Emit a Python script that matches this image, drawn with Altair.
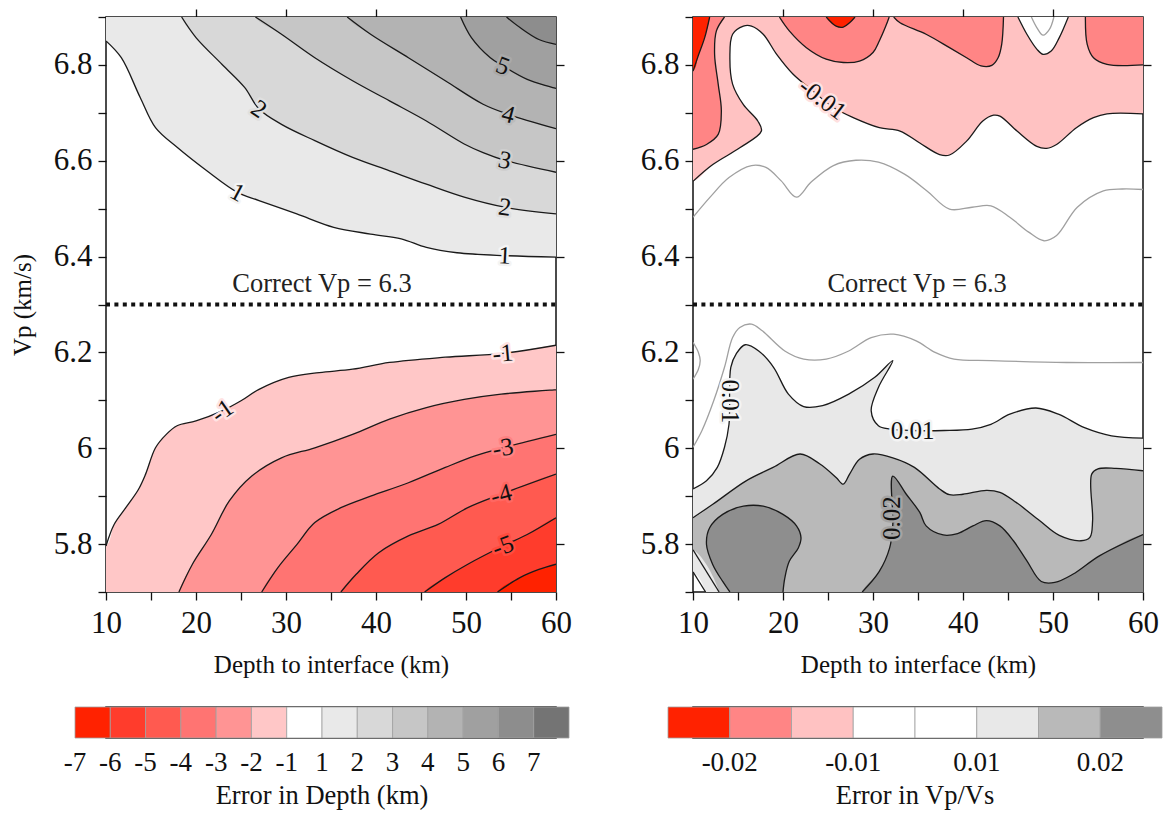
import altair as alt
import pandas as pd

FONT = "Liberation Serif"
DEPTH_MIN, DEPTH_MAX = 10, 60
VP_MIN, VP_MAX = 5.7, 6.9
CORRECT_VP = 6.3
PANEL_W, PANEL_H = 450, 575
BAR_H = 31

# outlines of filled regions are closed just outside the plot frame (clipped away)
X_OUT_L, X_OUT_R = DEPTH_MIN - 3, DEPTH_MAX + 3
Y_OUT_B, Y_OUT_T = VP_MIN - 0.05, VP_MAX + 0.05

# ---------------- Error in depth (km): contour lines, depth (km) vs Vp (km/s)
dz_p1_depth = [10, 11.7, 13.8, 15.5, 17.9, 21.2, 24.6, 27, 31.2, 35.3, 39.4, 42.8, 45.6, 49, 54.3, 60]
dz_p1_vp = [6.85, 6.815, 6.732, 6.669, 6.628, 6.579, 6.534, 6.517, 6.489, 6.461, 6.447, 6.437, 6.419, 6.408, 6.402, 6.399]
dz_p2_depth = [18.4, 20, 22.9, 25.4, 27, 29.5, 33.2, 37.4, 41.5, 45.6, 49.8, 54.3, 60]
dz_p2_vp = [6.9, 6.857, 6.801, 6.753, 6.708, 6.676, 6.642, 6.607, 6.579, 6.551, 6.524, 6.503, 6.489]
dz_p3_depth = [26.6, 29.5, 33.2, 37.4, 41.5, 45.6, 49.8, 51.9, 54.3, 60]
dz_p3_vp = [6.9, 6.864, 6.815, 6.767, 6.725, 6.683, 6.635, 6.617, 6.601, 6.576]
dz_p4_depth = [36.8, 39.4, 43.6, 47.7, 51.9, 54.7, 60]
dz_p4_vp = [6.9, 6.864, 6.815, 6.767, 6.718, 6.697, 6.667]
dz_p5_depth = [49.4, 50.6, 52.7, 54.1, 56.8, 60]
dz_p5_vp = [6.9, 6.857, 6.815, 6.798, 6.770, 6.751]
dz_p6_depth = [54.5, 56, 58.1, 60]
dz_p6_vp = [6.9, 6.878, 6.853, 6.843]

dz_n1_depth = [10, 10.9, 12.2, 13.6, 14.4, 15.5, 16.7, 17.9, 20, 22.9, 25, 27, 30.3, 33.7, 37.4, 41.5, 47.7, 54.1, 60]
dz_n1_vp = [5.796, 5.841, 5.876, 5.914, 5.946, 6.001, 6.029, 6.047, 6.057, 6.078, 6.099, 6.123, 6.148, 6.158, 6.165, 6.179, 6.190, 6.198, 6.215]
dz_n2_depth = [18.1, 19.6, 21.7, 23.7, 26.2, 29.5, 33.2, 37.4, 41.5, 45.6, 49.8, 53.9, 60]
dz_n2_vp = [5.7, 5.758, 5.820, 5.890, 5.942, 5.980, 6.001, 6.029, 6.061, 6.085, 6.102, 6.113, 6.122]
dz_n3_depth = [27.3, 29.1, 31.2, 33.2, 36.1, 39.4, 43.6, 47.7, 51, 54.1, 60]
dz_n3_vp = [5.7, 5.751, 5.799, 5.845, 5.876, 5.900, 5.928, 5.960, 5.984, 6.001, 6.029]
dz_n4_depth = [36.1, 37.8, 40.3, 43.6, 46.9, 50.2, 53.9, 60]
dz_n4_vp = [5.7, 5.737, 5.782, 5.817, 5.841, 5.876, 5.904, 5.946]
dz_n5_depth = [45.4, 47.7, 50.2, 54.1, 56.8, 60]
dz_n5_vp = [5.7, 5.730, 5.758, 5.796, 5.820, 5.855]
dz_n6_depth = [53.5, 56, 58.1, 60]
dz_n6_vp = [5.7, 5.730, 5.747, 5.758]

# colour classes: [-7,-6) ... [-1,1) ... [7, +)
dz_colors = ["#ff2200", "#ff3c2c", "#ff5a50", "#ff7472", "#ff9494", "#ffc7c7", "#ffffff",
             "#e9e9e9", "#d8d8d8", "#c6c6c6", "#b3b3b3", "#a0a0a0", "#8d8d8d", "#747474"]
dz_tick_pos = list(range(14))
dz_tick_text = ["-7", "-6", "-5", "-4", "-3", "-2", "-1", "1", "2", "3", "4", "5", "6", "7"]

dz_label_text = ["1", "2", "1", "2", "3", "4", "5", "-1", "-1", "-3", "-4", "-5"]
dz_label_depth = [24.6, 27.0, 54.3, 54.3, 54.3, 54.7, 54.1, 22.9, 54.1, 54.1, 53.9, 54.1]
dz_label_vp = [6.534, 6.708, 6.402, 6.503, 6.601, 6.697, 6.798, 6.078, 6.198, 6.001, 5.904, 5.796]
dz_label_angle = [28, 35, 3, 8, 12, 15, 20, 325, 355, 350, 345, 340]
dz_label_halo = ["#f4f4f4", "#e0e0e0", "#f4f4f4", "#e0e0e0", "#cfcfcf", "#bcbcbc", "#a9a9a9",
                 "#ffe3e3", "#ffe3e3", "#ff8383", "#ff6761", "#ff4b3e"]

# ---------------- Error in Vp/Vs: contour lines
r_m010_depth = [10, 12.2, 15.2, 17.6, 17.2, 15.6, 14.4, 14.1, 14.4, 15.6, 16.5, 17.8, 19.3, 21.1, 23.3,
                25.6, 27.8, 30.7, 33, 35.2, 37.4, 38.5, 40.4, 42.2, 43.4, 44.1, 46, 48.2, 49.3, 50.4,
                52.6, 54.5, 56, 60]
r_m010_vp = [6.557, 6.592, 6.627, 6.662, 6.683, 6.717, 6.760, 6.815, 6.864, 6.881, 6.881, 6.864, 6.822,
             6.781, 6.746, 6.711, 6.690, 6.669, 6.662, 6.637, 6.613, 6.612, 6.641, 6.683, 6.695, 6.693,
             6.662, 6.630, 6.626, 6.634, 6.669, 6.690, 6.698, 6.698]
r_m015a_depth = [13.5, 12.6, 12.4, 12.8, 13.15, 12.8, 11.5, 10]
r_m015a_vp = [6.9, 6.871, 6.822, 6.76, 6.704, 6.655, 6.634, 6.624]
r_m015b_depth = [19.6, 20.7, 22.6, 24.8, 26.7, 28.5, 30, 30.7, 31.4, 31.8]
r_m015b_vp = [6.9, 6.871, 6.836, 6.812, 6.805, 6.808, 6.826, 6.850, 6.880, 6.9]
r_m015c_depth = [32.3, 33, 35.9, 38.5, 40.4, 42.0, 43.2, 43.9, 44.3, 44.5]
r_m015c_vp = [6.9, 6.888, 6.864, 6.836, 6.815, 6.798, 6.799, 6.815, 6.843, 6.9]
r_m015d_depth = [53.6, 53.8, 54.5, 56, 60]
r_m015d_vp = [6.9, 6.843, 6.815, 6.801, 6.8]
r_m010b_depth = [46.1, 47.1, 48.2, 48.9, 49.8, 50.7, 51.7]
r_m010b_vp = [6.9, 6.864, 6.833, 6.822, 6.829, 6.857, 6.9]
r_m020a_depth = [11.85, 11.3, 10.6, 10]
r_m020a_vp = [6.9, 6.857, 6.82, 6.787]
r_m020b_depth = [24.8, 25.9, 26.7, 27.4, 28]
r_m020b_vp = [6.9, 6.881, 6.879, 6.888, 6.9]

r_p010_depth = [10, 11.5, 12.7, 13.5, 14, 14.2, 14.8, 15.8, 17.3, 18.95, 20.6, 22.3, 24.4, 27.3, 30.2,
                32.2, 30.6, 29.8, 30.6, 31.9, 34.4, 37.9, 41, 43.1, 45.2, 48.1, 50.6, 53.5, 56.5, 60]
r_p010_vp = [5.915, 5.932, 5.960, 6.002, 6.05, 6.169, 6.197, 6.216, 6.203, 6.169, 6.113, 6.087, 6.089,
             6.113, 6.148, 6.183, 6.127, 6.078, 6.047, 6.04, 6.037, 6.037, 6.04, 6.05, 6.071, 6.084,
             6.071, 6.043, 6.026, 6.021]
r_b010_depth = [11.4, 10]
r_b010_vp = [5.7, 5.742]
r_p015_depth = [10, 12.2, 15.9, 18.9, 21.9, 24.1, 25.9, 26.7, 27.4, 28.5, 30, 32.2, 34.6, 37.4, 38.5,
                40, 42.6, 44.1, 45.9, 48.5, 50.7, 53.1, 54.1, 54.4, 54.3, 55, 57, 60]
r_p015_vp = [5.855, 5.883, 5.932, 5.960, 5.988, 5.967, 5.939, 5.925, 5.946, 5.977, 5.988, 5.980, 5.960,
             5.915, 5.903, 5.904, 5.912, 5.908, 5.887, 5.849, 5.818, 5.807, 5.814, 5.849, 5.946, 5.957,
             5.958, 5.953]
r_b015_depth = [12.9, 10]
r_b015_vp = [5.7, 5.788]
r_p020a_depth = [14.1, 13.3, 12.2, 11.5, 11.85, 13.3, 15.6, 17.8, 20, 21.5, 22, 21.7, 20.7, 20.2, 20]
r_p020a_vp = [5.7, 5.722, 5.757, 5.799, 5.834, 5.862, 5.879, 5.879, 5.862, 5.838, 5.813, 5.792, 5.764, 5.729, 5.7]
r_p020b_depth = [28.8, 30.7, 31.85, 32.2, 32.2, 33.7, 35.2, 35.9, 37.8, 39.4, 41.1, 42.6, 44.1, 45.6,
                 47.1, 48.7, 50.2, 52.2, 55.2, 60]
r_p020b_vp = [5.7, 5.743, 5.792, 5.841, 5.942, 5.904, 5.866, 5.838, 5.819, 5.822, 5.838, 5.849, 5.838,
              5.807, 5.765, 5.722, 5.720, 5.737, 5.776, 5.82]

# thin grey contours
r_g1_depth = [10, 11.9, 14, 16.5, 18.1, 19.8, 21.5, 23.1, 25.6, 28.1, 30.6, 33.5, 36, 38.5, 41, 43.1,
              45.2, 47.3, 49, 50.4, 52.7, 55.6, 57.7, 60]
r_g1_vp = [6.482, 6.524, 6.565, 6.590, 6.586, 6.558, 6.524, 6.555, 6.590, 6.601, 6.597, 6.572, 6.537,
           6.499, 6.503, 6.506, 6.482, 6.451, 6.433, 6.444, 6.503, 6.537, 6.541, 6.540]
r_g2_depth = [47.6, 48.2, 48.9, 49.6, 50.1]
r_g2_vp = [6.9, 6.878, 6.862, 6.874, 6.9]
r_g3_depth = [10, 11, 12.3, 13.5, 14.4, 15.2, 16.5, 17.7, 20.2, 22.3, 24.8, 27.3, 29.8, 32.3, 34.8,
              36.9, 39, 43.1, 51.5, 60]
r_g3_vp = [6.002, 6.037, 6.099, 6.169, 6.231, 6.252, 6.259, 6.245, 6.203, 6.186, 6.186, 6.203, 6.231,
           6.238, 6.224, 6.2, 6.186, 6.183, 6.179, 6.179]
r_g4_depth = [10, 10.6, 10.8, 10.6, 10]
r_g4_vp = [6.221, 6.2, 6.183, 6.165, 6.144]

# colour classes: [-0.025,-0.02) [-0.02,-0.015) [-0.015,-0.01) [-0.01,0) [0,0.01) [0.01,0.015) [0.015,0.02) [0.02,+)
vr_colors = ["#ff2200", "#ff8585", "#ffc2c2", "#ffffff", "#ffffff", "#e8e8e8", "#b9b9b9", "#8e8e8e"]
vr_tick_pos = [1, 3, 5, 7]
vr_tick_text = ["-0.02", "-0.01", "0.01", "0.02"]

vr_label_text = ["-0.01", "0.01", "0.01", "0.02"]
vr_label_depth = [24.4, 14.1, 34.4, 32.1]
vr_label_vp = [6.729, 6.098, 6.036, 5.854]
vr_label_angle = [37, 90, 0, 270]
vr_label_halo = ["#ffe0e0", "#f4f4f4", "#f4f4f4", "#a4a4a4"]


def outward(d, v):
    """Step from a contour end on the frame straight out of the plot."""
    if d <= DEPTH_MIN:
        return (X_OUT_L, v)
    if d >= DEPTH_MAX:
        return (X_OUT_R, v)
    if v >= VP_MAX:
        return (d, Y_OUT_T)
    return (d, Y_OUT_B)


def region(key, parts, fill):
    """Closed outline built from contour pieces joined outside the frame."""
    pts = []
    for ds, vs, corners in parts:
        pts.append(outward(ds[0], vs[0]))
        pts += list(zip(ds, vs))
        pts.append(outward(ds[-1], vs[-1]))
        pts += corners
    return [{"poly": key, "i": i, "depth": d, "vp": v, "fill": fill} for i, (d, v) in enumerate(pts)]


def path_rows(key, depths, vps):
    return [{"poly": key, "i": i, "depth": d, "vp": v} for i, (d, v) in enumerate(zip(depths, vps))]


def frame(rows_list):
    return pd.DataFrame([r for rows in rows_list for r in rows])


TR, TL = (X_OUT_R, Y_OUT_T), (X_OUT_L, Y_OUT_T)
BR, BL = (X_OUT_R, Y_OUT_B), (X_OUT_L, Y_OUT_B)

# depth-error panel, painted from the zero band outwards
pos_lines = [(dz_p1_depth, dz_p1_vp), (dz_p2_depth, dz_p2_vp), (dz_p3_depth, dz_p3_vp),
             (dz_p4_depth, dz_p4_vp), (dz_p5_depth, dz_p5_vp), (dz_p6_depth, dz_p6_vp)]
neg_lines = [(dz_n1_depth, dz_n1_vp), (dz_n2_depth, dz_n2_vp), (dz_n3_depth, dz_n3_vp),
             (dz_n4_depth, dz_n4_vp), (dz_n5_depth, dz_n5_vp), (dz_n6_depth, dz_n6_vp)]
dz_fill = frame(
    [region(f"a{k}", [(ds, vs, [TR] + ([TL] if ds[0] <= DEPTH_MIN else []))], dz_colors[7 + k])
     for k, (ds, vs) in enumerate(pos_lines)]
    + [region(f"b{k}", [(ds, vs, [BR] + ([BL] if ds[0] <= DEPTH_MIN else []))], dz_colors[5 - k])
       for k, (ds, vs) in enumerate(neg_lines)])
dz_lines = frame([path_rows(f"l{k:02d}", ds, vs) for k, (ds, vs) in enumerate(pos_lines + neg_lines)])

# Vp/Vs panel
vr_regions = [
    ([(r_m010_depth, r_m010_vp, [TR, TL])], vr_colors[2]),
    ([(r_m015a_depth, r_m015a_vp, [TL])], vr_colors[1]),
    ([(r_m015b_depth, r_m015b_vp, [])], vr_colors[1]),
    ([(r_m015c_depth, r_m015c_vp, [])], vr_colors[1]),
    ([(r_m015d_depth, r_m015d_vp, [TR])], vr_colors[1]),
    ([(r_m010b_depth, r_m010b_vp, [])], vr_colors[3]),
    ([(r_m020a_depth, r_m020a_vp, [TL])], vr_colors[0]),
    ([(r_m020b_depth, r_m020b_vp, [])], vr_colors[0]),
    ([(r_p010_depth, r_p010_vp, [BR]), (r_b010_depth, r_b010_vp, [])], vr_colors[5]),
    ([(r_p015_depth, r_p015_vp, [BR]), (r_b015_depth, r_b015_vp, [])], vr_colors[6]),
    ([(r_p020a_depth, r_p020a_vp, [])], vr_colors[7]),
    ([(r_p020b_depth, r_p020b_vp, [BR])], vr_colors[7]),
]
vr_fill = frame([region(f"c{k:02d}", parts, c) for k, (parts, c) in enumerate(vr_regions)])
vr_contours = [(ds, vs) for parts, _ in vr_regions for ds, vs, _ in parts]
vr_lines = frame([path_rows(f"l{k:02d}", ds, vs) for k, (ds, vs) in enumerate(vr_contours)])
vr_grey = frame([path_rows(f"g{k}", ds, vs) for k, (ds, vs) in enumerate(
    [(r_g1_depth, r_g1_vp), (r_g2_depth, r_g2_vp), (r_g3_depth, r_g3_vp), (r_g4_depth, r_g4_vp)])])

depth_scale = alt.Scale(domain=[DEPTH_MIN, DEPTH_MAX], nice=False, zero=False)
vp_scale = alt.Scale(domain=[VP_MIN, VP_MAX], nice=False, zero=False)

x_ticks = list(range(10, 61, 5))
y_ticks = [5.7, 5.8, 5.9, 6.0, 6.1, 6.2, 6.3, 6.4, 6.5, 6.6, 6.7, 6.8, 6.9]


def xy(axis_x=None, axis_y=None):
    return dict(x=alt.X("depth:Q", scale=depth_scale, axis=axis_x),
                y=alt.Y("vp:Q", scale=vp_scale, axis=axis_y))


def panel(fill_df, line_df, labels, note_depth, y_title, grey=None):
    x_bottom = alt.Axis(orient="bottom", values=x_ticks,
                        labelExpr="datum.value % 10 === 0 ? datum.label : ''",
                        title="Depth to interface (km)", titlePadding=14, labelPadding=8)
    y_left = alt.Axis(orient="left", values=y_ticks, format="~g",
                      labelExpr="round(datum.value * 10) % 2 === 0 ? datum.label : ''",
                      title=y_title, titlePadding=18, labelPadding=6)
    fills = alt.Chart(fill_df).mark_line(strokeWidth=0, clip=True, interpolate="catmull-rom").encode(
        detail="poly:N", order="i:Q", fill=alt.Fill("fill:N", scale=None), **xy(x_bottom, y_left))
    layers = [fills]
    if grey is not None:
        layers.append(alt.Chart(grey).mark_line(stroke="#a0a0a0", strokeWidth=1.3, clip=True,
                                                interpolate="catmull-rom").encode(
            detail="poly:N", order="i:Q", **xy()))
    layers.append(alt.Chart(line_df).mark_line(stroke="#1a1a1a", strokeWidth=1.3, clip=True,
                                               interpolate="catmull-rom").encode(
        detail="poly:N", order="i:Q", **xy()))
    ref = pd.DataFrame({"depth": [DEPTH_MIN, DEPTH_MAX], "vp": [CORRECT_VP, CORRECT_VP]})
    layers.append(alt.Chart(ref).mark_line(color="#111111", strokeWidth=4, strokeDash=[4, 4.4]).encode(
        **xy(alt.Axis(orient="top", values=[20, 30, 40, 50], labels=False, title=None),
             alt.Axis(orient="right", values=[5.8, 6.0, 6.2, 6.4, 6.6, 6.8], labels=False, title=None))))
    note = pd.DataFrame({"depth": [note_depth], "vp": [CORRECT_VP], "text": ["Correct Vp = 6.3"]})
    layers.append(alt.Chart(note).mark_text(font=FONT, fontSize=26.5, color="#222222", dy=-21).encode(
        text="text:N", **xy()))
    enc = dict(text="text:N", angle=alt.Angle("angle:Q", scale=None), **xy())
    layers.append(alt.Chart(labels).mark_text(font=FONT, fontSize=25, strokeWidth=5, strokeJoin="round").encode(
        stroke=alt.Stroke("halo:N", scale=None), fill=alt.Fill("halo:N", scale=None), **enc))
    layers.append(alt.Chart(labels).mark_text(font=FONT, fontSize=25, color="#111111").encode(**enc))
    return alt.layer(*layers).properties(width=PANEL_W, height=PANEL_H)


def colour_bar(colors, tick_pos, tick_text, title, x_range):
    n = len(colors)
    xs = alt.Scale(domain=[0, n], range=x_range)
    ys = alt.Scale(domain=[0, 1])
    boxes = pd.DataFrame({"lo": list(range(n)), "hi": list(range(1, n + 1)), "color": colors,
                          "y0": [0] * n, "y1": [1] * n})
    ticks = pd.DataFrame({"pos": tick_pos, "text": tick_text, "y0": [0] * len(tick_pos)})
    head = pd.DataFrame({"pos": [n / 2], "text": [title], "y0": [0]})
    rects = alt.Chart(boxes).mark_rect(stroke="#a0a0a0", strokeWidth=0.8).encode(
        x=alt.X("lo:Q", scale=xs, axis=None), x2="hi:Q",
        y=alt.Y("y0:Q", scale=ys, axis=None), y2="y1:Q",
        fill=alt.Fill("color:N", scale=None))
    labs = alt.Chart(ticks).mark_text(font=FONT, fontSize=27, color="#111111", dy=25).encode(
        x=alt.X("pos:Q", scale=xs, axis=None), y=alt.Y("y0:Q", scale=ys, axis=None), text="text:N")
    ttl = alt.Chart(head).mark_text(font=FONT, fontSize=26.5, color="#111111", dy=58).encode(
        x=alt.X("pos:Q", scale=xs, axis=None), y=alt.Y("y0:Q", scale=ys, axis=None), text="text:N")
    return alt.layer(rects, labs, ttl).properties(width=PANEL_W, height=BAR_H)


dz_labels = pd.DataFrame({"text": dz_label_text, "depth": dz_label_depth, "vp": dz_label_vp,
                          "angle": dz_label_angle, "halo": dz_label_halo})
vr_labels = pd.DataFrame({"text": vr_label_text, "depth": vr_label_depth, "vp": vr_label_vp,
                          "angle": vr_label_angle, "halo": vr_label_halo})

left = alt.vconcat(
    panel(dz_fill, dz_lines, dz_labels, 34.0, "Vp (km/s)"),
    colour_bar(dz_colors, dz_tick_pos, dz_tick_text, "Error in Depth (km)", [-31, 463]),
    spacing=27,
)
right = alt.vconcat(
    panel(vr_fill, vr_lines, vr_labels, 34.9, None, grey=vr_grey),
    colour_bar(vr_colors, vr_tick_pos, vr_tick_text, "Error in Vp/Vs", [-25, 469]),
    spacing=27,
)

chart = alt.hconcat(left, right, spacing=66).properties(
    padding={"left": 9, "top": 0, "right": 0, "bottom": 0},
    background="white",
).configure_view(
    stroke="#111111", strokeWidth=1.5
).configure_axis(
    labelFont=FONT, titleFont=FONT, labelFontSize=31, titleFontSize=25, titleFontWeight="normal",
    labelColor="#111111", titleColor="#111111", tickColor="#111111", tickWidth=1.3, tickSize=8,
    domain=False, grid=False, labelFlush=False, labelOverlap=False,
)

chart.save("out.html", embed_options={"renderer": "svg", "actions": False})
